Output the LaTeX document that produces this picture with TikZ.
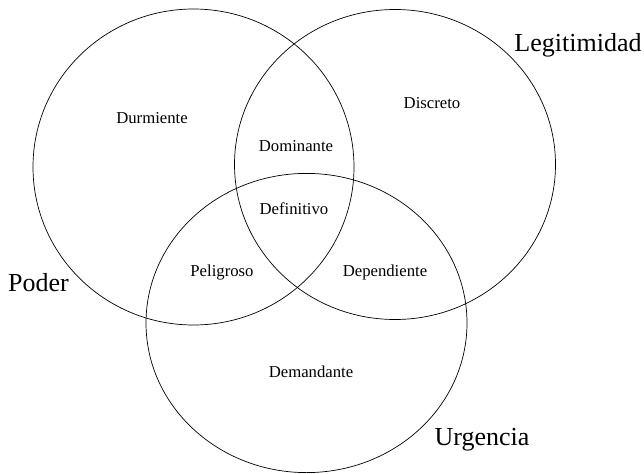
\documentclass[tikz,border=0pt]{standalone}
\usepackage{fontspec}
\setmainfont{Liberation Serif}
\begin{document}
\begin{tikzpicture}[x=1pt,y=-1pt,
  set/.style={draw=black,line width=0.7pt},
  small/.style={inner sep=0pt,anchor=base,font=\fontsize{16.7}{18}\selectfont},
  big/.style={inner sep=0pt,anchor=base,font=\fontsize{26}{28}\selectfont}]
\useasboundingbox (0,0) rectangle (644,473);
\draw[set] (193.5,167) ellipse [x radius=160.5pt, y radius=158pt];
\draw[set] (395,164.5) ellipse [x radius=160.5pt, y radius=155pt];
\draw[set] (306.5,323) ellipse [x radius=160.5pt, y radius=149.6pt];
\node[big] (leg) at (578,52) {Legitimidad};
\node[big] (pod) at (38.5,291) {Poder};
\node[big] (urg) at (482,445) {Urgencia};
\node[small] (dur) at (152,123.5) {Durmiente};
\node[small] (dis) at (432,109) {Discreto};
\node[small] (dom) at (296,151) {Dominante};
\node[small] (def) at (294,214) {Definitivo};
\node[small] (pel) at (222,276.5) {Peligroso};
\node[small] (dep) at (385,276.5) {Dependiente};
\node[small] (dem) at (311,377) {Demandante};
\end{tikzpicture}
\end{document}
